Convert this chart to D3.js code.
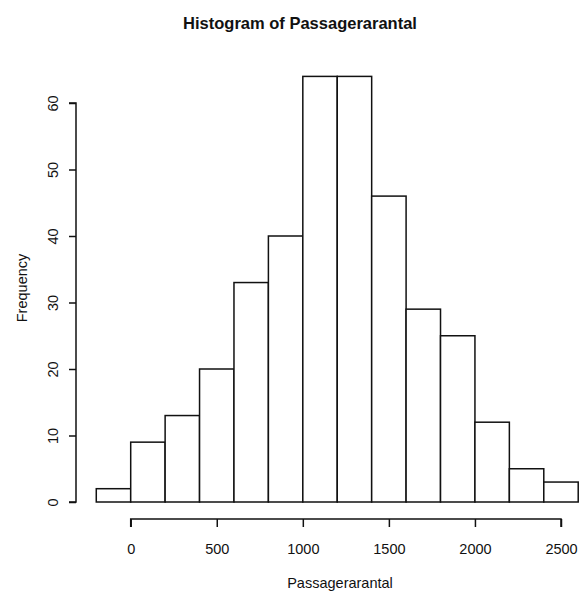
<!DOCTYPE html>
<html>
<head>
<meta charset="utf-8">
<script src="https://cdn.jsdelivr.net/npm/d3@7"></script>
<style>
  html, body { margin: 0; padding: 0; background: #fff; }
  svg { display: block; font-family: "Liberation Sans", Arial, Helvetica, sans-serif; }
</style>
</head>
<body>
<svg id="chart" width="580" height="592"></svg>
<script>
// ---- Data ----
const title = "Histogram of Passagerarantal";
const xTitle = "Passagerarantal";
const yTitle = "Frequency";
const binStarts = [-200, 0, 200, 400, 600, 800, 1000, 1200, 1400, 1600, 1800, 2000, 2200, 2400];
const binWidth = 200;
const counts = [2, 9, 13, 20, 33, 40, 64, 64, 46, 29, 25, 12, 5, 3];
const xTicks = [0, 500, 1000, 1500, 2000, 2500];
const yTicks = [0, 10, 20, 30, 40, 50, 60];

// ---- Layout ----
const svg = d3.select("#chart");
const x = d3.scaleLinear().domain([0, 2500]).range([130.7, 561]);
const y = d3.scaleLinear().domain([0, 60]).range([502, 103]);
const xAxisY = 519;
const yAxisX = 76;
const ink = "#111";

// Bars
svg.append("g")
  .selectAll("rect")
  .data(binStarts.map((s, i) => ({ s, c: counts[i] })))
  .join("rect")
  .attr("x", d => x(d.s))
  .attr("width", d => x(d.s + binWidth) - x(d.s))
  .attr("y", d => y(d.c))
  .attr("height", d => y(0) - y(d.c))
  .attr("fill", "#fff")
  .attr("stroke", ink)
  .attr("stroke-width", 1.5);

// X axis
const gx = svg.append("g")
  .attr("transform", `translate(0,${xAxisY})`)
  .call(d3.axisBottom(x).tickValues(xTicks).tickSize(8).tickPadding(17).tickFormat(d3.format("d")));
gx.select(".domain").attr("stroke", ink).attr("stroke-width", 1.5).attr("d", `M${x(0)},8V0H${x(2500)}V8`);
gx.selectAll(".tick line").attr("stroke", ink).attr("stroke-width", 1.5);
gx.selectAll("text").attr("font-size", 14.5).attr("fill", ink).attr("font-family", null);

// Y axis
const gy = svg.append("g")
  .attr("transform", `translate(${yAxisX},0)`)
  .call(d3.axisLeft(y).tickValues(yTicks).tickSize(7).tickFormat(d3.format("d")));
gy.select(".domain").attr("stroke", ink).attr("stroke-width", 1.5).attr("d", `M-7,${y(0)}H0V${y(60)}H-7`);
gy.selectAll(".tick line").attr("stroke", ink).attr("stroke-width", 1.5);
gy.selectAll("text")
  .attr("font-size", 14.5)
  .attr("fill", ink)
  .attr("font-family", null)
  .attr("text-anchor", "middle")
  .attr("x", 0)
  .attr("y", -23)
  .attr("dy", "0.35em")
  .attr("transform", "rotate(-90)");

// Titles
svg.append("text")
  .attr("x", 300).attr("y", 28.5)
  .attr("text-anchor", "middle")
  .attr("font-size", 16.5).attr("font-weight", "bold").attr("fill", ink)
  .text(title);

svg.append("text")
  .attr("x", 340).attr("y", 583)
  .attr("dy", "0.35em")
  .attr("text-anchor", "middle")
  .attr("font-size", 14.5).attr("fill", ink)
  .text(xTitle);

svg.append("text")
  .attr("transform", "translate(22,288) rotate(-90)")
  .attr("dy", "0.35em")
  .attr("text-anchor", "middle")
  .attr("font-size", 14.5).attr("fill", ink)
  .text(yTitle);
</script>
</body>
</html>
